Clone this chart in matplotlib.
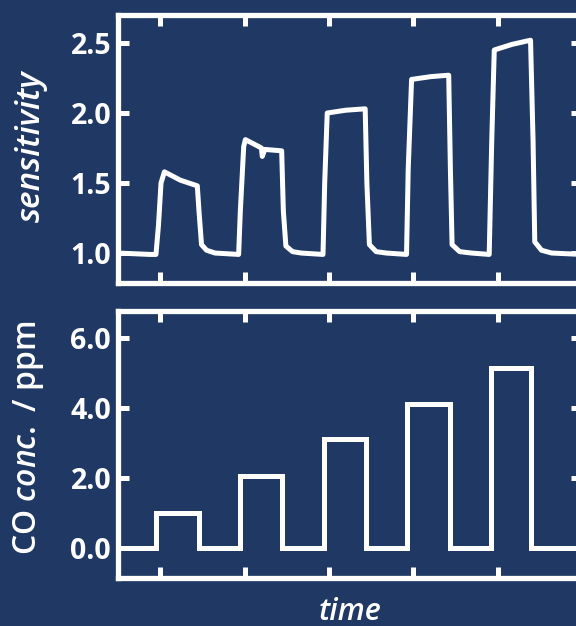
import matplotlib
matplotlib.use("Agg")
import matplotlib.pyplot as plt

# ---------------- data ----------------
sens_time = [0.50, 0.88, 0.95, 0.98, 1.01, 1.05, 1.24, 1.44, 1.46, 1.49, 1.55, 1.65,
             1.93, 1.95, 1.99, 2.01, 2.17, 2.20, 2.21, 2.24, 2.44, 2.46, 2.49, 2.57, 2.67,
             2.93, 2.95, 2.98, 3.20, 3.43, 3.45, 3.48, 3.56, 3.68,
             3.92, 3.94, 3.98, 4.21, 4.42, 4.44, 4.46, 4.55, 4.69,
             4.90, 4.93, 4.96, 5.17, 5.39, 5.42, 5.44, 5.52, 5.64, 6.00]
sens_value = [1.00, 0.99, 0.99, 1.20, 1.50, 1.58, 1.52, 1.48, 1.30, 1.06, 1.02, 1.00,
              0.99, 1.30, 1.76, 1.81, 1.76, 1.75, 1.69, 1.74, 1.73, 1.30, 1.05, 1.01, 1.00,
              0.99, 1.50, 2.00, 2.02, 2.03, 1.50, 1.06, 1.01, 1.00,
              0.99, 1.60, 2.24, 2.26, 2.27, 1.60, 1.06, 1.01, 1.00,
              0.99, 1.80, 2.45, 2.49, 2.52, 1.80, 1.08, 1.02, 1.00, 0.99]

co_time = [0.50, 0.95, 0.95, 1.46, 1.46, 1.95, 1.95, 2.44, 2.44, 2.94, 2.94, 3.44, 3.44,
           3.93, 3.93, 4.43, 4.43, 4.92, 4.92, 5.40, 5.40, 6.00]
co_conc = [0.0, 0.0, 1.0, 1.0, 0.0, 0.0, 2.05, 2.05, 0.0, 0.0, 3.1, 3.1, 0.0,
           0.0, 4.1, 4.1, 0.0, 0.0, 5.15, 5.15, 0.0, 0.0]

sens_ticks = [1.0, 1.5, 2.0, 2.5]
sens_ticklabels = ["1.0", "1.5", "2.0", "2.5"]
co_ticks = [0.0, 2.0, 4.0, 6.0]
co_ticklabels = ["0.0", "2.0", "4.0", "6.0"]
time_ticks = [1, 2, 3, 4, 5, 6]

# ---------------- style ----------------
BG = "#1f3864"
FG = "white"
plt.rcParams["font.family"] = ["Open Sans", "DejaVu Sans"]
plt.rcParams["mathtext.fontset"] = "custom"
plt.rcParams["mathtext.it"] = "Open Sans:italic:semibold"
plt.rcParams["mathtext.rm"] = "Open Sans:semibold"

fig = plt.figure(figsize=(5.76, 6.26), dpi=100, facecolor=BG)
W, H = 576.0, 626.0

def px_axes(left, top, right, bottom):
    return fig.add_axes([left / W, 1 - bottom / H, (right - left) / W, (bottom - top) / H])

ax1 = px_axes(118, 15, 582, 283)
ax2 = px_axes(118, 311, 582, 578)

for ax in (ax1, ax2):
    ax.set_facecolor(BG)
    for s in ax.spines.values():
        s.set_color(FG)
        s.set_linewidth(3.8)
    ax.tick_params(axis="both", which="both", direction="in", color=FG,
                   width=3.6, length=8, labelcolor=FG, labelsize=20.5, pad=5,
                   top=True, right=True, bottom=True, left=True,
                   labelbottom=False)
    ax.set_xlim(0.5, 6.0)
    ax.set_xticks(time_ticks)

ax1.plot(sens_time, sens_value, color=FG, lw=3.6, solid_joinstyle="round")
ax1.set_ylim(0.786, 2.70)
ax1.set_yticks(sens_ticks)
ax1.set_yticklabels(sens_ticklabels, fontweight="bold")

ax2.plot(co_time, co_conc, color=FG, lw=3.6, solid_joinstyle="miter")
ax2.set_ylim(-0.86, 6.77)
ax2.set_yticks(co_ticks)
ax2.set_yticklabels(co_ticklabels, fontweight="bold")

fig.text(31 / W, 1 - 146 / H, "sensitivity", color=FG, fontsize=24, style="italic",
         fontweight="semibold", rotation=90, ha="center", va="center")
fig.text(29 / W, 1 - 438 / H, r"CO $\mathit{conc.}$ / ppm", color=FG, fontsize=23,
         fontweight="semibold", rotation=90, ha="center", va="center")
fig.text(350 / W, 1 - 620 / H, "time", color=FG, fontsize=22, style="italic",
         fontweight="semibold", ha="center", va="baseline")

fig.savefig("out.png", dpi=100, facecolor=BG)
